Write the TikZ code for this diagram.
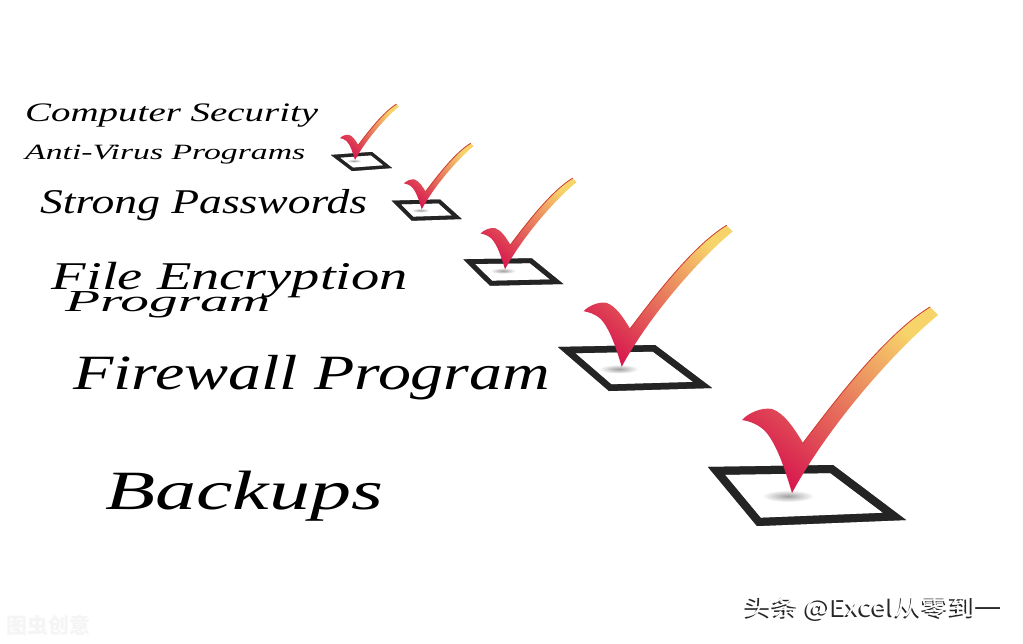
\documentclass[tikz,border=0pt]{standalone}
\usepackage{fontspec}
\setmainfont{Liberation Serif}
\newfontfamily\cjk{Noto Sans CJK SC}
\usepackage{graphicx}
\usepackage{tikz}
\usetikzlibrary{calc}
\definecolor{negro}{HTML}{242424}
\definecolor{grislado}{HTML}{6B6B6B}
\definecolor{carmesi}{HTML}{D81B4F}
\definecolor{salmon}{HTML}{EF7060}
\definecolor{oro}{HTML}{F7D46A}
\definecolor{rojoborde}{HTML}{CF3A2C}
\definecolor{sombra}{HTML}{A0A0A0}

% texto italico estirado a lo ancho
\newcommand\estirar[3]{\resizebox{#1}{\height}{\fontsize{#2}{#2}\selectfont\itshape #3}}
% texto chino de las marcas de agua
\newcommand\marcatexto{\resizebox{258pt}{\height}{\cjk\fontsize{23}{23}\selectfont 头条 @Excel从零到一}}
% casilla con marco en relieve
\newcommand\casilla[3]{%
  \fill[grislado,shift={(0,#3)}] #1 -- cycle;
  \fill[white] #1 -- cycle;
  \begin{scope}
    \clip #1 -- cycle;
    \draw[grislado,line join=round,line width=2*#2,shift={(0,#3)}] #1 -- cycle;
    \draw[negro,line join=round,line width=2*#2] #1 -- cycle;
  \end{scope}}

\tikzset{
  etiqueta/.style={inner sep=0pt,anchor=base west,text=black},
  marca/.style={inner sep=0pt,anchor=west},
  palomita/.pic={
    % sombra bajo la punta
    \shade[inner color=sombra,outer color=white] (-4,3) ellipse (26 and 6);
    \shade[bottom color=carmesi,middle color=salmon,top color=oro,shading angle=-40]
      (0,0) .. controls (-6,-20) and (-15,-50) .. (-28,-63)
      .. controls (-36,-70) and (-44,-72) .. (-50,-73)
      .. controls (-44,-80) and (-30,-86) .. (-20,-84)
      .. controls (-8,-80) and (2,-65) .. (11,-50)
      .. controls (45,-95) and (95,-160) .. (138,-186)
      -- (146,-178)
      .. controls (100,-140) and (35,-65) .. (0,0) -- cycle;
    \draw[rojoborde,line width=0.8pt]
      (11,-50) .. controls (45,-95) and (95,-160) .. (138,-186);
  }
}

\begin{document}
\begin{tikzpicture}[x=1pt,y=-1pt,line cap=round]
  \fill[white] (0,0) rectangle (1023,643);
  \useasboundingbox (0,0) rectangle (1023,643);

  % lista de textos
  \node[etiqueta] (seguridad) at (25,121.7) {\estirar{293pt}{26.7}{Computer Security}};
  \node[etiqueta] (antivirus) at (25,159.5) {\estirar{280pt}{21.8}{Anti-Virus Programs}};
  \node[etiqueta] (claves) at (40,213) {\estirar{327pt}{34.7}{Strong Passwords}};
  \node[etiqueta] (cifrado) at (51.7,289.3) {\estirar{356pt}{39.3}{File Encryption}};
  \node[etiqueta] (programa) at (65,311) {\estirar{205pt}{30.5}{Program}};
  \node[etiqueta] (cortafuegos) at (73,389.3) {\estirar{477pt}{49.3}{Firewall Program}};
  \node[etiqueta] (respaldo) at (105,509.3) {\estirar{278pt}{55.4}{Backups}};

  % esquinas de las casillas
  \coordinate (A1) at (331,155);   \coordinate (B1) at (372,152);
  \coordinate (C1) at (392,168);   \coordinate (D1) at (352,171);
  \coordinate (A2) at (391.7,200.7); \coordinate (B2) at (440,199.5);
  \coordinate (C2) at (461.7,219);   \coordinate (D2) at (411.7,220.7);
  \coordinate (A3) at (463.3,259.3); \coordinate (B3) at (531.7,258.3);
  \coordinate (C3) at (563.3,284);   \coordinate (D3) at (490,285.7);
  \coordinate (A4) at (558,347);   \coordinate (B4) at (655,345);
  \coordinate (C4) at (712,388);   \coordinate (D4) at (609,391);
  \coordinate (A5) at (708,467);   \coordinate (B5) at (833,465);
  \coordinate (C5) at (906,520);   \coordinate (D5) at (757,526);
  \foreach \i/\ancho/\alto in {1/3.2/2.5,2/3.8/3,3/4.8/3.5,4/6.5/5,5/8/6}{
    \casilla{(A\i)--(B\i)--(C\i)--(D\i)}{\ancho}{\alto}
  }

  % palomitas
  \foreach \x/\y/\s in {355/160/0.3,421.7/209.3/0.355,505/269.3/0.49,
                        621.7/366.7/0.76,792/493/1}{
    \pic[scale=\s] at (\x,\y) {palomita};
  }

  % marcas de agua
  \node[marca,text=black!4] (tuchong) at (6,625) {\cjk\fontsize{21}{21}\selectfont\bfseries 图虫创意};
  \node[marca,text=black!85] (toutiaosombra) at (743.5,609.5) {\marcatexto};
  \node[marca,text=white] (toutiao) at (745,608) {\marcatexto};
\end{tikzpicture}
\end{document}
